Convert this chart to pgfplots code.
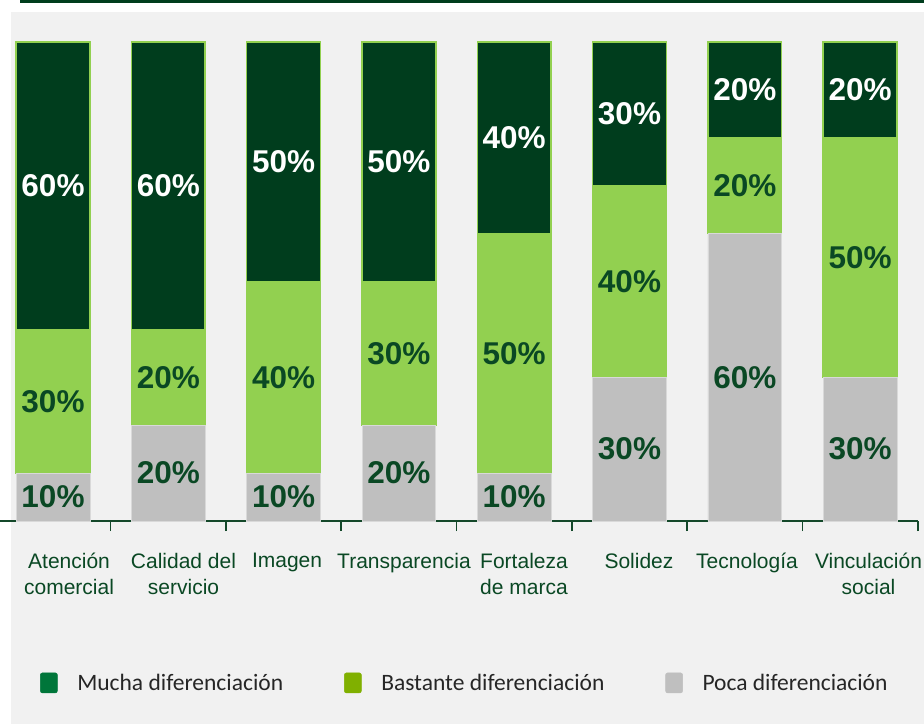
\documentclass[border=0pt]{standalone}
\usepackage{pgfplots}
\pgfplotsset{compat=1.18}
\usepackage{fontspec}
\setmainfont{Liberation Sans}
\newfontfamily\legendfont{Carlito}

\definecolor{mucha}{RGB}{0,61,29}
\definecolor{bastante}{RGB}{146,208,80}
\definecolor{poca}{RGB}{191,191,191}
\definecolor{labgreen}{RGB}{10,72,36}
\definecolor{axgreen}{RGB}{20,72,42}
\definecolor{bggray}{RGB}{241,241,241}
\definecolor{legmucha}{RGB}{0,118,58}
\definecolor{legbastante}{RGB}{128,176,0}
\definecolor{legpoca}{RGB}{191,191,191}

\begin{document}
\begin{tikzpicture}
\useasboundingbox (0,0) rectangle (924pt,724pt);
\fill[bggray] (11pt,0) rectangle (924pt,712pt);
\draw[mucha, line width=3pt] (20pt,722.5pt) -- (924pt,722.5pt);
\begin{axis}[
  at={(53pt,203pt)}, anchor=origin,
  x=115.3pt, y=4.79pt,
  xmin=-0.46, xmax=7.5, ymin=0, ymax=100,
  clip=false,
  ybar stacked, bar width=73.8pt,
  axis x line*=bottom, axis y line=none,
  x axis line style={axgreen, line width=1.6pt},
  % labels sit a little right of the bar centres, as in the original
  xtick={0.139,1.132,2.03,3.044,4.085,5.082,6.019,7.073},
  xticklabels={{Atención\\comercial},{Calidad del\\servicio},Imagen,Transparencia,
    {Fortaleza\\de marca},Solidez,Tecnología,{Vinculación\\social}},
  xticklabel style={align=center, anchor=north, text=labgreen,
    font=\fontsize{21}{26}\selectfont, yshift=-29pt},
  major tick length=0pt,
  tick align=outside,
  tick style={axgreen, line width=1.6pt},
  extra x ticks={0.5,1.5,...,7.5},
  extra x tick labels={},
  extra x tick style={major tick length=10pt},
  point meta=rawy,
  /pgf/number format/assume math mode=true,
  nodes near coords={\pgfmathprintnumber{\pgfplotspointmeta}\%},
  every node near coord/.append style={anchor=center,
    font=\bfseries\fontsize{31.5}{31.5}\selectfont},
  legend columns=3,
  legend cell align=left,
  legend style={at={(0.0436,-0.338)}, anchor=west, draw=none, fill=none,
    inner sep=0pt, text=black!85,
    font=\legendfont\fontsize{23.5}{26}\selectfont,
    /tikz/every odd column/.append style={column sep=17.7pt},
    /tikz/every even column/.append style={column sep=59pt}},
]
\addplot[forget plot, fill=poca, draw=black!15, line width=0.8pt,
  every node near coord/.append style={text=labgreen}]
  coordinates {(0,10) (1,20) (2,10) (3,20) (4,10) (5,30) (6,60) (7,30)};
\addplot[forget plot, fill=bastante, draw=bastante, line width=1.5pt,
  every node near coord/.append style={text=labgreen}]
  coordinates {(0,30) (1,20) (2,40) (3,30) (4,50) (5,40) (6,20) (7,50)};
\addplot[forget plot, fill=mucha, draw=bastante, line width=1.5pt,
  every node near coord/.append style={text=white}]
  coordinates {(0,60) (1,60) (2,50) (3,50) (4,40) (5,30) (6,20) (7,20)};
\addlegendimage{legend image code/.code={\fill[legmucha, rounded corners=2pt] (0pt,-10pt) rectangle (17pt,10pt);}}
\addlegendentry{Mucha diferenciación}
\addlegendimage{legend image code/.code={\fill[legbastante, rounded corners=2pt] (0pt,-10pt) rectangle (17pt,10pt);}}
\addlegendentry{Bastante diferenciación}
\addlegendimage{legend image code/.code={\fill[legpoca, rounded corners=2pt] (0pt,-10pt) rectangle (17pt,10pt);}}
\addlegendentry{Poca diferenciación}
\end{axis}
\end{tikzpicture}
\end{document}
